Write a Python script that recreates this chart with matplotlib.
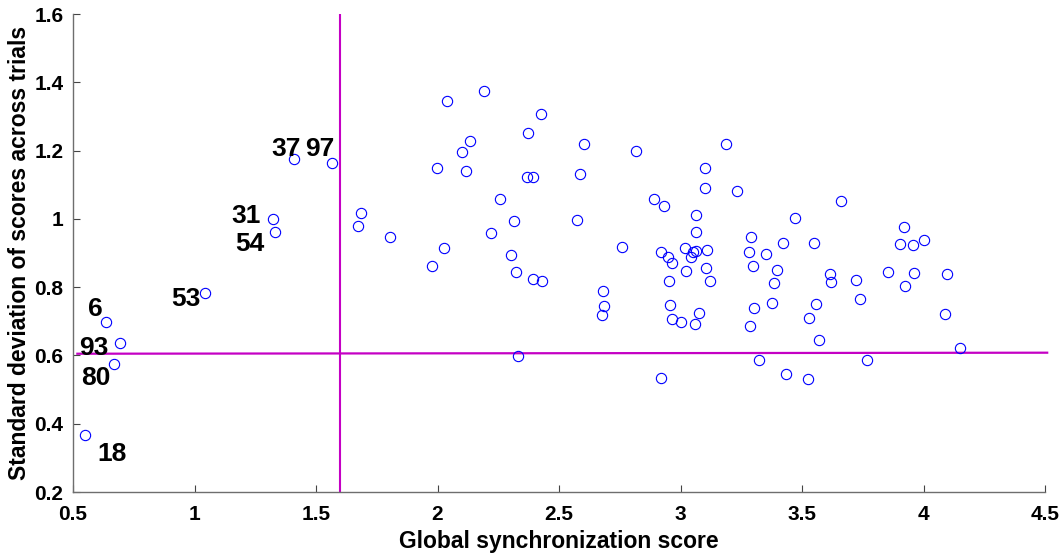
import matplotlib
matplotlib.use('Agg')
import matplotlib.pyplot as plt
from matplotlib.ticker import FuncFormatter

# subjects picked out with a number
label_ids = ['6', '93', '80', '18', '53', '31', '54', '37', '97']
label_x = [0.636, 0.694, 0.669, 0.551, 1.045, 1.325, 1.330, 1.410, 1.565]
label_y = [0.699, 0.636, 0.575, 0.367, 0.783, 1.000, 0.961, 1.176, 1.165]

# remaining subjects
sync_x = [2.041, 2.190, 2.425, 2.374, 2.134, 2.099, 1.997, 2.119, 2.370, 2.393,
          2.256, 2.315, 2.222, 1.685, 1.674, 1.803, 2.026, 1.976, 2.304, 2.325,
          2.393, 2.428, 2.333,
          2.604, 2.818, 3.189, 2.588, 3.100, 3.102, 3.234, 2.889, 2.933, 3.063,
          2.573, 3.063, 2.761, 2.919, 2.947, 2.964, 3.020, 3.062, 3.051, 3.043,
          3.111, 3.022, 3.104, 3.292, 3.421, 3.283, 3.352, 3.297, 3.399, 3.472,
          2.681, 2.685, 2.677, 2.954, 3.121, 2.956, 2.967, 3.004, 3.077, 3.059,
          3.384, 3.378, 3.303, 3.285, 3.324, 3.435, 2.921,
          3.661, 3.551, 3.920, 3.902, 3.955, 4.002, 3.615, 3.618, 3.724, 3.852,
          3.959, 4.096, 3.925, 3.737, 3.558, 3.528, 4.090, 3.569, 4.152, 3.769,
          3.523]
sd_y = [1.345, 1.374, 1.308, 1.251, 1.228, 1.195, 1.150, 1.139, 1.122, 1.124,
        1.057, 0.995, 0.959, 1.016, 0.980, 0.946, 0.916, 0.861, 0.895, 0.843,
        0.824, 0.817, 0.599,
        1.218, 1.200, 1.219, 1.132, 1.150, 1.089, 1.082, 1.057, 1.038, 1.012,
        0.997, 0.961, 0.919, 0.903, 0.889, 0.870, 0.916, 0.907, 0.904, 0.889,
        0.910, 0.846, 0.855, 0.946, 0.930, 0.903, 0.896, 0.862, 0.850, 1.002,
        0.789, 0.745, 0.718, 0.817, 0.819, 0.749, 0.708, 0.698, 0.723, 0.692,
        0.812, 0.755, 0.739, 0.687, 0.587, 0.546, 0.534,
        1.052, 0.928, 0.975, 0.927, 0.924, 0.938, 0.838, 0.814, 0.822, 0.845,
        0.840, 0.838, 0.804, 0.766, 0.750, 0.710, 0.721, 0.646, 0.623, 0.586,
        0.532]

# threshold lines
thr_x = 1.6
thr_line_x = [0.518, 4.509]
thr_line_y = [0.605, 0.608]

xticks = [0.5, 1, 1.5, 2, 2.5, 3, 3.5, 4, 4.5]
yticks = [0.2, 0.4, 0.6, 0.8, 1.0, 1.2, 1.4, 1.6]

# label offsets from their point, in points
label_off = [(-7.9, 9.4), (-18.7, -3.2), (-13.1, -10), (19.2, -13.9), (-13.9, -4.3),
             (-19.5, 2.2), (-17.6, -8.6), (-6, 6.7), (-8.8, 9.4)]

plt.rcParams['font.family'] = ['Liberation Sans', 'DejaVu Sans']
plt.rcParams['font.weight'] = 'bold'

fig = plt.figure(figsize=(10.62, 5.53), dpi=100)
ax = fig.add_axes([73 / 1062., 61 / 553., 972 / 1062., 478 / 553.])

mag = '#c400c4'
ax.plot([thr_x, thr_x], [0.2, 1.6], color=mag, lw=1.5, zorder=1)
ax.plot(thr_line_x, thr_line_y, color=mag, lw=1.6, zorder=1, clip_on=False)

ax.plot(sync_x + label_x, sd_y + label_y, 'o', ls='none', mfc='none', mec='#0000ff',
        mew=0.8, ms=7.4, zorder=3, clip_on=False)

for t, x, y, off in zip(label_ids, label_x, label_y, label_off):
    ax.annotate(t, (x, y), xytext=off, textcoords='offset points', ha='center',
                va='center', fontsize=19, fontweight='bold', color='black')

ax.set_xlim(0.5, 4.5)
ax.set_ylim(0.2, 1.6)
ax.set_xticks(xticks)
ax.set_yticks(yticks)
fmt = FuncFormatter(lambda v, p: '%g' % v)
ax.xaxis.set_major_formatter(fmt)
ax.yaxis.set_major_formatter(fmt)

for s in ['top', 'right']:
    ax.spines[s].set_visible(False)
for s in ['left', 'bottom']:
    ax.spines[s].set_color('#6e6e6e')
    ax.spines[s].set_linewidth(1.0)
ax.tick_params(direction='in', length=5, width=0.8, color='#444444',
               labelsize=15)
ax.tick_params(axis='x', pad=9)
ax.tick_params(axis='y', pad=7)
for lab in ax.get_xticklabels() + ax.get_yticklabels():
    lab.set_fontweight('bold')

ax.set_xlabel('Global synchronization score', fontsize=16.5, fontweight='bold', labelpad=5)
ax.set_ylabel('Standard deviation of scores across trials', fontsize=16.5,
              fontweight='bold', labelpad=2)

fig.savefig('out.png', dpi=100)
